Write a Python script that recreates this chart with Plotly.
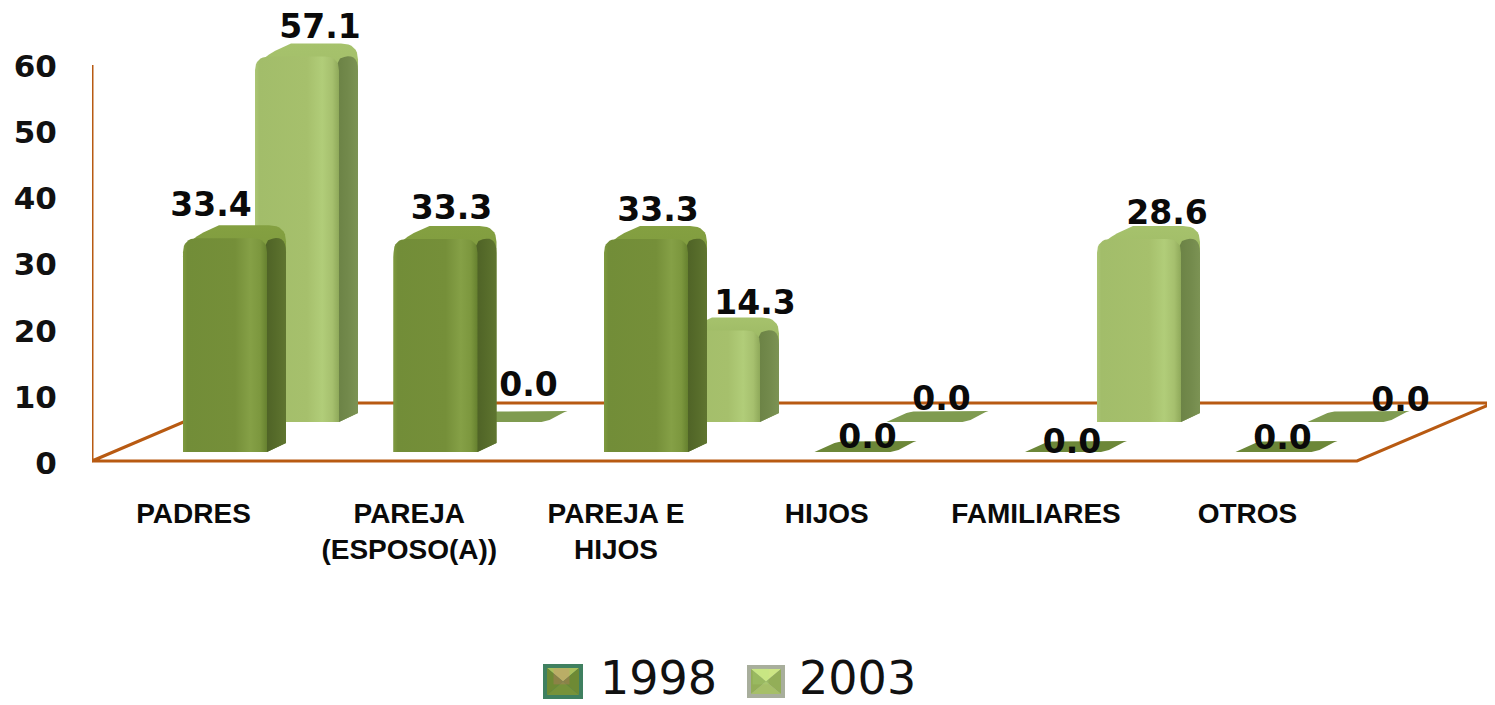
import plotly.graph_objects as go

# ---- data ----
categories = ["PADRES", "PAREJA<br>(ESPOSO(A))", "PAREJA E<br>HIJOS", "HIJOS", "FAMILIARES", "OTROS"]
values_1998 = [33.4, 33.3, 33.3, 0.0, 0.0, 0.0]
values_2003 = [57.1, 0.0, 14.3, 0.0, 28.6, 0.0]
y_ticks = [0, 10, 20, 30, 40, 50, 60]

# ---- manually moved data labels (pixels relative to the top-left of each bar) ----
nudge_1998 = [(28, -17), (58, -15), (54, -13), (53, -1), (47, 4), (47, 0)]
nudge_2003 = [(65, -14), (63, -23), (79, -12), (55, -9), (70, -10), (93, -8)]
label_shift = [0.05, 0.075, 0.057, 0.058, 0.052, 0.057]

# ---- layout geometry, in pixels of the page ----
W, H = 1495, 705
BODY = 8                   # the page's own margin around the figure
PLOT_L, PLOT_B = 92, 488
Y0_PX, PX_PER_UNIT = 463, 6.617
FIRST_BAR, STEP = 183, 210.5
BAR_SCALE = 6.4            # the 3D bars are drawn slightly shorter than the wall scale
FRONT_W, SIDE_W, CAP_H = 84, 19, 12
ROW_DX = 72

STY = {
    "1998": dict(base=452, front=[[0, "#7E9A3F"], [.05, "#728D38"], [.62, "#758F39"], [.8, "#85A046"], [.92, "#7C973E"], [1, "#66812F"]],
                 side=[[0, "#4E6226"], [.5, "#566B2A"], [1, "#5F7530"]],
                 cap=[[0, "#64802F"], [1, "#84A041"]], flat="#6C8738"),
    "2003": dict(base=422, front=[[0, "#ACC676"], [.05, "#A2BD6A"], [.62, "#A6C06C"], [.8, "#B1CD79"], [.92, "#A6C06E"], [1, "#8FA95A"]],
                 side=[[0, "#6B8245"], [.5, "#72894B"], [1, "#7C9354"]],
                 cap=[[0, "#7F9B4C"], [1, "#A6C26C"]], flat="#7F9B50"),
}
LINE = "#B85A12"


def ux(px):
    return (px - FIRST_BAR) / STEP


def uy(py):
    return (Y0_PX - py) / PX_PER_UNIT


def corner(p0, c, p1, n=8):
    out = []
    for j in range(n + 1):
        t = j / n
        out.append(((1 - t) ** 2 * p0[0] + 2 * t * (1 - t) * c[0] + t ** 2 * p1[0],
                    (1 - t) ** 2 * p0[1] + 2 * t * (1 - t) * c[1] + t ** 2 * p1[1]))
    return out


def poly(pts, **kw):
    xs = [ux(p[0]) for p in pts] + [ux(pts[0][0])]
    ys = [uy(p[1]) for p in pts] + [uy(pts[0][1])]
    return go.Scatter(x=xs, y=ys, mode="lines", fill="toself", line=dict(width=0),
                      showlegend=False, hoverinfo="skip", **kw)


def bar(fig, x0, v, st):
    base = st["base"]
    if v == 0:
        fig.add_trace(poly([(x0, base), (x0 + 76, base)] + corner((x0 + 84, base - 2), (x0 + 96, base - 9), (x0 + 102, base - 11), 4)
                           + corner((x0 + 36, base - 11), (x0 + 26, base - 11), (x0 + 20, base - 9), 4), fillcolor=st["flat"]))
        return
    ftop = base - v * BAR_SCALE
    stop = ftop - CAP_H - 1
    right = x0 + FRONT_W + SIDE_W
    sil = (corner((x0, ftop + 18), (x0, ftop + 1), (x0 + 36, stop)) +
           corner((x0 + 86, stop), (right, stop), (right, stop + 16)) +
           [(right, base - 9), (x0 + FRONT_W, base), (x0, base)])
    fig.add_trace(poly(sil, fillgradient=dict(type="vertical", colorscale=st["cap"])))
    side = ([(x0 + FRONT_W - 2, ftop + 8)] +
            corner((x0 + FRONT_W + 1, ftop + 2), (right, ftop - 6), (right, ftop + 14)) +
            [(right, base - 9), (x0 + FRONT_W, base), (x0 + FRONT_W - 2, base)])
    fig.add_trace(poly(side, fillgradient=dict(type="horizontal", colorscale=st["side"])))
    front = (corner((x0, ftop + 14), (x0, ftop), (x0 + 14, ftop)) +
             corner((x0 + FRONT_W - 14, ftop), (x0 + FRONT_W, ftop), (x0 + FRONT_W, ftop + 14)) +
             [(x0 + FRONT_W, base), (x0, base)])
    fig.add_trace(poly(front, fillgradient=dict(type="horizontal", colorscale=st["front"])))


fig = go.Figure()

# walls and floor
wall_x = [92, 92, 228, 1493, 1357, 92]
wall_y = [65, 461, 403, 403, 461, 461]
fig.add_trace(go.Scatter(x=[ux(p) for p in wall_x], y=[uy(p) for p in wall_y], mode="lines",
                         line=dict(color=LINE, width=3), showlegend=False, hoverinfo="skip"))

# bars: back row first, then front row
for i, v in enumerate(values_2003):
    bar(fig, FIRST_BAR + ROW_DX + STEP * i, v, STY["2003"])
for i, v in enumerate(values_1998):
    bar(fig, FIRST_BAR + STEP * i, v, STY["1998"])

# data labels
lx, ly, lt = [], [], []
for name, vals, nudges, off in (("1998", values_1998, nudge_1998, 0), ("2003", values_2003, nudge_2003, ROW_DX)):
    for i, v in enumerate(vals):
        x0 = FIRST_BAR + off + STEP * i
        sil_top = STY[name]["base"] - v * BAR_SCALE - (CAP_H + 1 if v else 11)
        lx.append(ux(x0 + nudges[i][0]))
        ly.append(uy(sil_top + nudges[i][1]))
        lt.append(f"{v:.1f}")
fig.add_trace(go.Scatter(x=lx, y=ly, text=lt, mode="text", textposition="middle center", cliponaxis=False,
                         textfont=dict(family="DejaVu Sans", size=33, color="#0a0a0a", weight="bold"),
                         showlegend=False, hoverinfo="skip"))

# legend entries (the bevelled swatches are drawn behind them)
for name in ("1998", "2003"):
    fig.add_trace(go.Scatter(x=[None], y=[None], mode="markers", name=name,
                             marker=dict(symbol="square", size=16, opacity=0)))


def px_x(px):
    return (px - PLOT_L) / (W - PLOT_L)


def px_y(py):
    return (PLOT_B - py) / (PLOT_B - BODY)


def swatch(x0, y0, x1, y1, border, top, left, bottom):
    b = 4
    shapes = [dict(type="rect", xref="paper", yref="paper", x0=px_x(x0), x1=px_x(x1), y0=px_y(y0), y1=px_y(y1),
                   fillcolor=border, line=dict(width=0), layer="below")]
    ix0, ix1, iy0, iy1 = x0 + b, x1 - b, y0 + b, y1 - b
    cx, cy = (x0 + x1) / 2, (y0 + y1) / 2
    tris = [((ix0, iy0), (ix1, iy0), (cx, cy), top), ((ix0, iy0), (ix0, iy1), (cx, cy), left),
            ((ix1, iy0), (ix1, iy1), (cx, cy), left), ((ix0, iy1), (ix1, iy1), (cx, cy), bottom)]
    for a, c, d, col in tris:
        path = "M{} {} L{} {} L{} {} Z".format(px_x(a[0]), px_y(a[1]), px_x(c[0]), px_y(c[1]), px_x(d[0]), px_y(d[1]))
        shapes.append(dict(type="path", xref="paper", yref="paper", path=path, fillcolor=col,
                           line=dict(width=0), layer="below"))
    return shapes


fig.update_layout(
    width=W - BODY, height=H - BODY, autosize=False,
    margin=dict(l=PLOT_L - BODY, r=0, t=0, b=H - PLOT_B, pad=0, autoexpand=False),
    paper_bgcolor="white", plot_bgcolor="white",
    xaxis=dict(range=[ux(PLOT_L), ux(W)], tickmode="array", tickvals=[i + s for i, s in enumerate(label_shift)],
               ticktext=categories, showgrid=False, zeroline=False, showline=False, ticks="outside", ticklen=0,
               tickcolor="rgba(0,0,0,0)", tickangle=0,
               tickfont=dict(family="Liberation Sans", size=28, color="#0a0a0a", weight="bold")),
    yaxis=dict(range=[uy(PLOT_B), uy(BODY)], tickmode="array", tickvals=y_ticks, showgrid=False, zeroline=False,
               showline=False, ticks="outside", ticklen=28, tickcolor="rgba(0,0,0,0)",
               tickfont=dict(family="DejaVu Sans", size=31, color="#111111", weight="bold")),
    legend=dict(orientation="h", x=px_x(523), xanchor="left", y=px_y(640), yanchor="top", itemwidth=67,
                font=dict(family="DejaVu Sans", size=46, color="#111111"), bgcolor="rgba(0,0,0,0)",
                traceorder="normal"),
    shapes=swatch(543, 664, 583, 699, "#3F8060", "#A9C05C", "#6E8A34", "#76923A")
    + swatch(747, 665, 785, 698, "#A8AE9C", "#CDE684", "#93AE58", "#A6BF68"),
    showlegend=True,
)

fig.write_html("out.html")
